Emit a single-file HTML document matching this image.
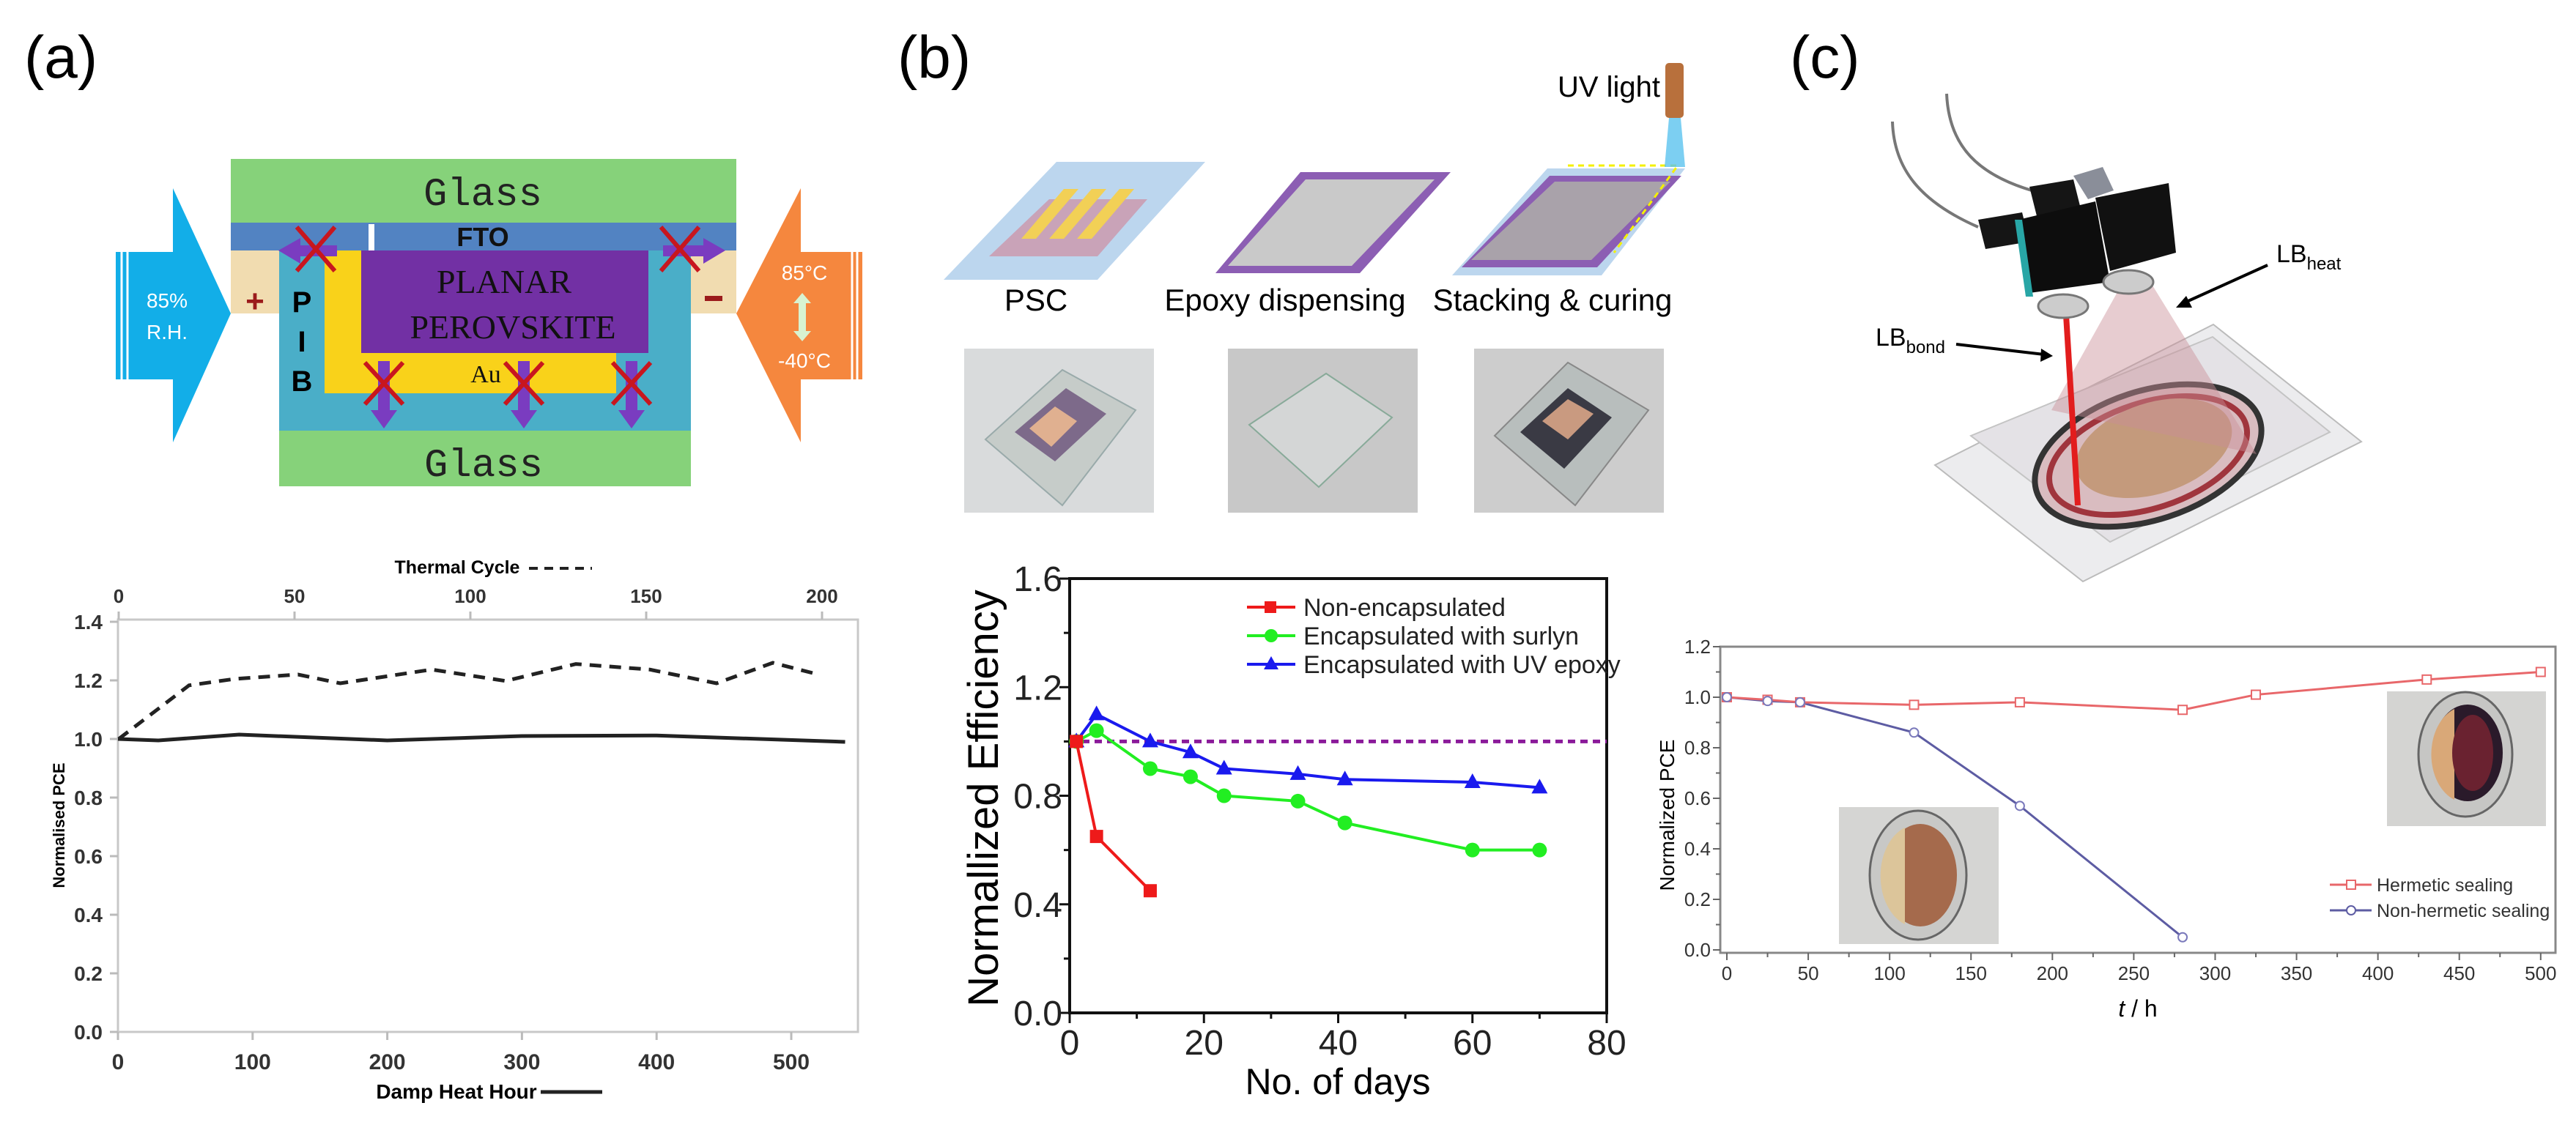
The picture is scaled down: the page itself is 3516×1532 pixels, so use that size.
<!DOCTYPE html>
<html><head><meta charset="utf-8">
<style>
html,body{margin:0;padding:0;background:#fff;}
svg{display:block;font-family:"Liberation Sans",sans-serif;}
</style></head>
<body>
<svg id="fig" width="3516" height="1532" viewBox="0 0 3516 1532" xmlns="http://www.w3.org/2000/svg">
<rect width="3516" height="1532" fill="#fff"/>

<!-- panel labels -->
<text x="33" y="106" font-size="82">(a)</text>
<text x="1225" y="106" font-size="82">(b)</text>
<text x="2443" y="106" font-size="82">(c)</text>

<!-- ===== Diagram A ===== -->
<g>
  <rect x="315" y="217" width="690" height="87" fill="#86d27a"/>
  <text x="659" y="280" font-size="54" font-family="Liberation Mono,monospace" text-anchor="middle" fill="#222">Glass</text>
  <rect x="315" y="304" width="690" height="38" fill="#5283c2"/>
  <text x="659" y="336" font-size="36" font-weight="bold" text-anchor="middle" fill="#111">FTO</text>
  <rect x="503" y="306" width="8" height="36" fill="#fff"/>
  <rect x="315" y="342" width="66" height="86" fill="#f1dcb0"/>
  <rect x="943" y="342" width="62" height="86" fill="#f1dcb0"/>
  <rect x="381" y="342" width="562" height="246" fill="#4aaec8"/>
  <rect x="443" y="342" width="398" height="195" fill="#f9d21a"/>
  <rect x="493" y="342" width="392" height="140" fill="#7230a4"/>
  <text x="688" y="400" font-size="46" font-family="Liberation Serif,serif" text-anchor="middle" fill="#111">PLANAR</text>
  <text x="700" y="462" font-size="46" font-family="Liberation Serif,serif" text-anchor="middle" fill="#111">PEROVSKITE</text>
  <text x="663" y="522" font-size="34" font-family="Liberation Serif,serif" text-anchor="middle" fill="#111">Au</text>
  <text x="412" y="426" font-size="40" font-weight="bold" text-anchor="middle">P</text>
  <text x="412" y="480" font-size="40" font-weight="bold" text-anchor="middle">I</text>
  <text x="412" y="534" font-size="40" font-weight="bold" text-anchor="middle">B</text>
  <rect x="381" y="588" width="562" height="76" fill="#86d27a"/>
  <text x="660" y="650" font-size="54" font-family="Liberation Mono,monospace" text-anchor="middle" fill="#222">Glass</text>
  <text x="348" y="426" font-size="44" font-weight="bold" text-anchor="middle" fill="#9b1b1b">+</text>
  <rect x="962" y="404" width="24" height="7" fill="#9b1b1b"/>
  <polygon points="158,344 236,344 236,257 315,428 236,604 236,518 158,518" fill="#12aee8"/>
  <line x1="166" y1="344" x2="166" y2="518" stroke="#fff" stroke-width="3"/>
  <line x1="174" y1="344" x2="174" y2="518" stroke="#fff" stroke-width="3"/>
  <text x="228" y="420" font-size="28" fill="#fff" text-anchor="middle">85%</text>
  <text x="228" y="463" font-size="28" fill="#fff" text-anchor="middle">R.H.</text>
  <polygon points="1177,344 1093,344 1093,257 1005,428 1093,604 1093,518 1177,518" fill="#f5873e"/>
  <line x1="1163" y1="344" x2="1163" y2="518" stroke="#fff" stroke-width="3"/>
  <line x1="1170" y1="344" x2="1170" y2="518" stroke="#fff" stroke-width="3"/>
  <text x="1098" y="382" font-size="28" fill="#fff" text-anchor="middle">85°C</text>
  <text x="1098" y="502" font-size="28" fill="#fff" text-anchor="middle">-40°C</text>
  <polygon points="1095,400 1107,414 1100,414 1100,452 1107,452 1095,466 1083,452 1090,452 1090,414 1083,414" fill="#d8f3d0"/>
  <g fill="#7a3cc0">
    <polygon points="380,342 410,325 410,335 460,335 460,350 410,350 410,360"/>
    <polygon points="990,342 960,325 960,335 905,335 905,350 960,350 960,360"/>
    <polygon points="516,493 532,493 532,560 542,560 524,585 506,560 516,560"/>
    <polygon points="707,493 723,493 723,560 733,560 715,585 697,560 707,560"/>
    <polygon points="854,493 870,493 870,560 880,560 862,585 844,560 854,560"/>
  </g>
  <g stroke="#c8161e" stroke-width="6">
    <path d="M405,310 L457,370 M457,310 L405,370"/>
    <path d="M902,310 L954,370 M954,310 L902,370"/>
    <path d="M498,495 L550,552 M550,495 L498,552"/>
    <path d="M689,495 L741,552 M741,495 L689,552"/>
    <path d="M836,495 L888,552 M888,495 L836,552"/>
  </g>
</g>

<!-- ===== Diagram B ===== -->
<g>
  <polygon points="1442,221 1645,221 1498,382 1288,382" fill="#bcd6ee"/>
  <polygon points="1432,272 1566,272 1498,350 1350,350" fill="#c9a3b8"/>
  <g fill="#f2d056">
    <polygon points="1452,258 1472,258 1414,326 1394,326"/>
    <polygon points="1490,258 1510,258 1452,326 1432,326"/>
    <polygon points="1528,258 1548,258 1490,326 1470,326"/>
  </g>
  <polygon points="1775,235 1980,235 1856,373 1659,373" fill="#8c5eb3"/>
  <polygon points="1782,245 1958,245 1845,363 1676,363" fill="#c9c9c9"/>
  <polygon points="2112,230 2300,230 2186,376 1982,376" fill="#bcd6ee"/>
  <polygon points="2115,240 2295,240 2180,365 1995,365" fill="#8c5eb3"/>
  <polygon points="2122,248 2280,248 2172,355 2008,355" fill="#a9a2aa"/>
  <polyline points="2140,226 2290,226 2203,345" fill="none" stroke="#f4f000" stroke-width="3" stroke-dasharray="8,6"/>
  <polygon points="2278,161 2294,161 2300,228 2272,228" fill="#5bc3ef" opacity="0.8"/>
  <rect x="2273" y="86" width="25" height="75" rx="5" fill="#b8703c"/>
  <text x="2266" y="132" font-size="40" text-anchor="end">UV light</text>
  <text x="1414" y="424" font-size="42" text-anchor="middle">PSC</text>
  <text x="1754" y="424" font-size="42" text-anchor="middle">Epoxy dispensing</text>
  <text x="2119" y="424" font-size="42" text-anchor="middle">Stacking &amp; curing</text>
  <g>
    <rect x="1316" y="476" width="259" height="224" fill="#d9dbdc"/>
    <polygon points="1345,600 1450,505 1550,560 1450,690" fill="#c6ccc9" stroke="#9aa" stroke-width="2"/>
    <polygon points="1385,590 1455,530 1510,565 1440,630" fill="#7d6a8a"/>
    <polygon points="1405,585 1440,555 1470,575 1435,610" fill="#e0b090"/>
  </g>
  <g>
    <rect x="1676" y="476" width="259" height="224" fill="#c8c8c8"/>
    <polygon points="1705,580 1810,510 1900,570 1800,665" fill="#d4d6d6" stroke="#8a9" stroke-width="2"/>
  </g>
  <g>
    <rect x="2012" y="476" width="259" height="224" fill="#cdcdcd"/>
    <polygon points="2040,595 2140,495 2250,560 2150,690" fill="#b8bebd" stroke="#888" stroke-width="2"/>
    <polygon points="2075,590 2140,530 2200,570 2135,640" fill="#3a3a44"/>
    <polygon points="2105,575 2140,545 2175,565 2140,600" fill="#c99a80"/>
  </g>
</g>

<!-- ===== Diagram C ===== -->
<g>
  <polygon points="2641,635 3021,443 3223,603 2843,794" fill="#ececee" stroke="#bbb" stroke-width="2"/>
  <polygon points="2690,595 3020,460 3180,590 2880,740" fill="#e4e2e6" stroke="#c4c4c4" stroke-width="2"/>
  <ellipse cx="2932" cy="622" rx="160" ry="88" transform="rotate(-18 2932 622)" fill="#d9bcc0" stroke="#333" stroke-width="8"/>
  <ellipse cx="2932" cy="622" rx="140" ry="72" transform="rotate(-18 2932 622)" fill="none" stroke="#a0353d" stroke-width="8"/>
  <ellipse cx="2940" cy="612" rx="110" ry="62" transform="rotate(-18 2940 612)" fill="#c49a7c"/>
  <polygon points="2895,390 2800,560 3080,620 2935,385" fill="#c98d96" opacity="0.45"/>
  <line x1="2820" y1="430" x2="2836" y2="690" stroke="#e21d1d" stroke-width="8"/>
  <path d="M2583,166 C2585,230 2620,275 2700,310" fill="none" stroke="#777" stroke-width="4"/>
  <path d="M2657,128 C2660,200 2700,240 2780,262" fill="none" stroke="#777" stroke-width="4"/>
  <polygon points="2700,300 2760,290 2770,330 2710,340" fill="#151515"/>
  <polygon points="2770,255 2830,245 2840,285 2780,295" fill="#151515"/>
  <polygon points="2755,300 2860,275 2880,385 2770,400" fill="#0d0d0d"/>
  <polygon points="2860,270 2960,250 2970,345 2880,370" fill="#111"/>
  <polygon points="2750,300 2760,300 2775,405 2765,405" fill="#28a6a6"/>
  <polygon points="2830,240 2870,228 2885,260 2850,272" fill="#8a8e99"/>
  <ellipse cx="2816" cy="418" rx="34" ry="16" fill="#ccc" stroke="#777" stroke-width="3"/>
  <ellipse cx="2905" cy="385" rx="34" ry="16" fill="#ccc" stroke="#777" stroke-width="3"/>
  <text x="3107" y="358" font-size="34">LB<tspan font-size="24" dy="10">heat</tspan></text>
  <line x1="3095" y1="362" x2="2980" y2="414" stroke="#000" stroke-width="4"/>
  <polygon points="2970,420 2984,404 2992,420" fill="#000"/>
  <text x="2560" y="472" font-size="34">LB<tspan font-size="24" dy="10">bond</tspan></text>
  <line x1="2670" y1="470" x2="2790" y2="484" stroke="#000" stroke-width="4"/>
  <polygon points="2802,486 2786,476 2785,494" fill="#000"/>
</g>

<!-- ===== Chart A ===== -->
<g id="chartA">
  <rect x="161" y="846" width="1010" height="563" fill="none" stroke="#c8c8c8" stroke-width="3"/>
  <text x="624" y="783" font-size="25" font-weight="bold" text-anchor="middle">Thermal Cycle</text>
  <line x1="722" y1="776" x2="808" y2="776" stroke="#222" stroke-width="4" stroke-dasharray="12,9"/>
  <text x="623" y="1500" font-size="28" font-weight="bold" text-anchor="middle">Damp Heat Hour</text>
  <line x1="738" y1="1491" x2="822" y2="1491" stroke="#222" stroke-width="5"/>
  <text transform="translate(88,1127) rotate(-90)" font-size="22" font-weight="bold" text-anchor="middle">Normalised PCE</text>
</g>

<!-- ===== Chart B ===== -->
<g id="chartB">
  <rect x="1460" y="790" width="733" height="593" fill="none" stroke="#111" stroke-width="4"/>
  <text x="1826" y="1494" font-size="50" text-anchor="middle">No. of days</text>
  <text transform="translate(1362,1090) rotate(-90)" font-size="58" text-anchor="middle">Normallized  Efficiency</text>
</g>

<!-- ===== Chart C ===== -->
<g id="chartC">
  <rect x="2348" y="883" width="1140" height="418" fill="none" stroke="#888" stroke-width="3"/>
  <g>
    <rect x="2510" y="1102" width="218" height="187" fill="#d5d5d3"/>
    <ellipse cx="2618" cy="1195" rx="66" ry="88" fill="#c8c8c6" stroke="#666" stroke-width="3"/>
    <ellipse cx="2621" cy="1195" rx="50" ry="70" fill="#a56a4c"/>
    <path d="M2600,1130 A50,70 0 0 0 2600,1262 Z" fill="#dcc59a"/>
  </g>
  <g>
    <rect x="3258" y="944" width="217" height="184" fill="#d4d4d2"/>
    <ellipse cx="3365" cy="1030" rx="64" ry="85" fill="#c6c6c4" stroke="#666" stroke-width="3"/>
    <ellipse cx="3368" cy="1028" rx="48" ry="66" fill="#2a1a2a"/>
    <path d="M3350,968 A48,66 0 0 0 3350,1092 Z" fill="#d9a878"/>
    <ellipse cx="3375" cy="1028" rx="28" ry="52" fill="#6a2230"/>
  </g>
  <text x="2918" y="1388" font-size="32" font-style="italic" text-anchor="middle">t<tspan font-style="normal"> / h</tspan></text>
  <text transform="translate(2285,1113) rotate(-90)" font-size="28" text-anchor="middle">Normalized PCE</text>
</g>

<script>
// ---- Chart A data ----
const aHours = [0, 30, 90, 200, 300, 400, 540];
const aDampValues = [1.0, 0.995, 1.015, 0.995, 1.01, 1.012, 0.99];
const aCycles = [0, 20, 33, 51, 63, 89, 110, 130, 151, 170, 186, 199];
const aThermalValues = [1.0, 1.183, 1.205, 1.22, 1.19, 1.237, 1.198, 1.256, 1.237, 1.19, 1.26, 1.22];
const aXTicks = ["0", "100", "200", "300", "400", "500"];
const aTopTicks = ["0", "50", "100", "150", "200"];
const aYTicks = ["0.0", "0.2", "0.4", "0.6", "0.8", "1.0", "1.2", "1.4"];

// ---- Chart B data ----
const bDaysRed = [1, 4, 12];
const bNonEncap = [1.0, 0.65, 0.45];
const bDays = [1, 4, 12, 18, 23, 34, 41, 60, 70];
const bSurlyn = [1.0, 1.04, 0.9, 0.87, 0.8, 0.78, 0.7, 0.6, 0.6];
const bUvEpoxy = [1.0, 1.1, 1.0, 0.96, 0.9, 0.88, 0.86, 0.85, 0.83];
const bReference = [1.0];
const bXTicks = ["0", "20", "40", "60", "80"];
const bYTicks = ["0.0", "0.4", "0.8", "1.2", "1.6"];
const bLegend = ["Non-encapsulated", "Encapsulated with surlyn", "Encapsulated with UV epoxy"];

// ---- Chart C data ----
const cHoursH = [0, 25, 45, 115, 180, 280, 325, 430, 500];
const cHermetic = [1.0, 0.99, 0.98, 0.97, 0.98, 0.95, 1.01, 1.07, 1.1];
const cHoursN = [0, 25, 45, 115, 180, 280];
const cNonHermetic = [1.0, 0.985, 0.98, 0.86, 0.57, 0.05];
const cXTicks = ["0", "50", "100", "150", "200", "250", "300", "350", "400", "450", "500"];
const cYTicks = ["0.0", "0.2", "0.4", "0.6", "0.8", "1.0", "1.2"];
const cLegend = ["Hermetic sealing", "Non-hermetic sealing"];

const NS = "http://www.w3.org/2000/svg";
function mk(parent, tag, attrs, text) {
  const e = document.createElementNS(NS, tag);
  for (const k in attrs) e.setAttribute(k, attrs[k]);
  if (text !== undefined) e.textContent = text;
  parent.appendChild(e);
  return e;
}
function pts(xs, ys, fx, fy) { return xs.map((x, i) => fx(x) + "," + fy(ys[i])).join(" "); }

(function () {
  const g = document.getElementById("chartA");
  const xA = h => 161 + h * 1.838;
  const xT = c => 162 + c * 4.8;
  const yA = v => 1409 - v * 400;
  aXTicks.forEach(t => {
    const x = xA(+t);
    const l = mk(g, "line", { x1: x, y1: 1409, x2: x, y2: 1420, stroke: "#bbb", "stroke-width": 3 });
    
    
    const tx = mk(g, "text", { x: x, y: 1460, "font-size": 30, "font-weight": "bold", "text-anchor": "middle", fill: "#333" }, t);
    
    
  });
  aTopTicks.forEach(t => {
    const x = xT(+t);
    const l = mk(g, "line", { x1: x, y1: 835, x2: x, y2: 846, stroke: "#bbb", "stroke-width": 3 });
    
    
    const tx = mk(g, "text", { x: x, y: 823, "font-size": 26, "font-weight": "bold", "text-anchor": "middle", fill: "#333" }, t);
    
    
  });
  aYTicks.forEach(t => {
    const y = yA(+t);
    const l = mk(g, "line", { x1: 150, y1: y, x2: 161, y2: y, stroke: "#bbb", "stroke-width": 3 });
    
    
    const tx = mk(g, "text", { x: 140, y: y + 10, "font-size": 28, "font-weight": "bold", "text-anchor": "end", fill: "#333" }, t);
    
    
  });
  const dash = mk(g, "polyline", { points: pts(aCycles, aThermalValues, xT, yA), fill: "none", stroke: "#222", "stroke-width": 5, "stroke-dasharray": "16,11" });
  
  
  const solid = mk(g, "polyline", { points: pts(aHours, aDampValues, xA, yA), fill: "none", stroke: "#222", "stroke-width": 5 });
  
  
})();

(function () {
  const g = document.getElementById("chartB");
  const xB = d => 1460 + d * 9.1625;
  const yB = v => 1383 - v * 370.6;
  for (let d = 0; d <= 80; d += 10) {
    const major = d % 20 === 0;
    const l = mk(g, "line", { x1: xB(d), y1: 1383, x2: xB(d), y2: 1383 + (major ? 14 : 8), stroke: "#111", "stroke-width": 3 });
    
    
  }
  bXTicks.forEach(t => {
    const tx = mk(g, "text", { x: xB(+t), y: 1440, "font-size": 48, "text-anchor": "middle", fill: "#222" }, t);
    
    
  });
  for (let v = 0; v <= 1.6001; v += 0.2) {
    const major = Math.round(v * 10) % 4 === 0;
    const l = mk(g, "line", { x1: 1460 - (major ? 14 : 8), y1: yB(v), x2: 1460, y2: yB(v), stroke: "#111", "stroke-width": 3 });
    
    
  }
  bYTicks.forEach(t => {
    const tx = mk(g, "text", { x: 1450, y: yB(+t) + 17, "font-size": 48, "text-anchor": "end", fill: "#222" }, t);
    
    
  });
  const ref = mk(g, "line", { x1: xB(0), y1: yB(bReference[0]), x2: xB(80), y2: yB(bReference[0]), stroke: "#8b1a9a", "stroke-width": 5, "stroke-dasharray": "10,7" });
  
  

  const green = mk(g, "polyline", { points: pts(bDays, bSurlyn, xB, yB), fill: "none", stroke: "#22ee22", "stroke-width": 4 });
  
  
  bDays.forEach((d, i) => {
    const c = mk(g, "circle", { cx: xB(d), cy: yB(bSurlyn[i]), r: 10, fill: "#22ee22" });
    
    
  });
  const blue = mk(g, "polyline", { points: pts(bDays, bUvEpoxy, xB, yB), fill: "none", stroke: "#1a1aee", "stroke-width": 4 });
  
  
  bDays.forEach((d, i) => {
    const x = xB(d), y = yB(bUvEpoxy[i]);
    const p = mk(g, "polygon", { points: `${x},${y - 12} ${x + 11},${y + 8} ${x - 11},${y + 8}`, fill: "#1a1aee" });
    
    
  });
  const red = mk(g, "polyline", { points: pts(bDaysRed, bNonEncap, xB, yB), fill: "none", stroke: "#ee1a1a", "stroke-width": 4 });
  
  
  bDaysRed.forEach((d, i) => {
    const r = mk(g, "rect", { x: xB(d) - 9, y: yB(bNonEncap[i]) - 9, width: 18, height: 18, fill: "#ee1a1a" });
    
    
  });
  const colors = ["#ee1a1a", "#22ee22", "#1a1aee"];
  bLegend.forEach((name, i) => {
    const y = 829 + i * 39;
    const l = mk(g, "line", { x1: 1702, y1: y, x2: 1768, y2: y, stroke: colors[i], "stroke-width": 4 });
    
    
    let m;
    if (i === 0) m = mk(g, "rect", { x: 1726, y: y - 8, width: 16, height: 16, fill: colors[i] });
    else if (i === 1) m = mk(g, "circle", { cx: 1735, cy: y, r: 9, fill: colors[i] });
    else m = mk(g, "polygon", { points: `1735,${y - 11} 1745,${y + 7} 1725,${y + 7}`, fill: colors[i] });
    
    
    const t = mk(g, "text", { x: 1779, y: y + 12, "font-size": 34, fill: "#222" }, name);
    
    
  });
})();

(function () {
  const g = document.getElementById("chartC");
  const xC = h => 2357 + h * 2.2216;
  const yC = v => 1297 - v * 345;
  for (let h = 0; h <= 500; h += 25) {
    const major = h % 50 === 0;
    const l = mk(g, "line", { x1: xC(h), y1: 1301, x2: xC(h), y2: 1301 + (major ? 10 : 6), stroke: "#666", "stroke-width": 2 });
    
    
  }
  cXTicks.forEach(t => {
    const tx = mk(g, "text", { x: xC(+t), y: 1338, "font-size": 26, "text-anchor": "middle", fill: "#333" }, t);
    
    
  });
  for (let v = 0; v <= 1.2001; v += 0.1) {
    const major = Math.round(v * 10) % 2 === 0;
    const l = mk(g, "line", { x1: 2348 - (major ? 10 : 6), y1: yC(v), x2: 2348, y2: yC(v), stroke: "#666", "stroke-width": 2 });
    
    
  }
  cYTicks.forEach(t => {
    const tx = mk(g, "text", { x: 2335, y: yC(+t) + 9, "font-size": 26, "text-anchor": "end", fill: "#333" }, t);
    
    
  });
  const nl = mk(g, "polyline", { points: pts(cHoursN, cNonHermetic, xC, yC), fill: "none", stroke: "#5d5ca3", "stroke-width": 3 });
  
  
  const hl = mk(g, "polyline", { points: pts(cHoursH, cHermetic, xC, yC), fill: "none", stroke: "#e8676a", "stroke-width": 3 });
  
  
  cHoursH.forEach((h, i) => {
    const r = mk(g, "rect", { x: xC(h) - 6, y: yC(cHermetic[i]) - 6, width: 12, height: 12, fill: "#fff", stroke: "#e8676a", "stroke-width": 2 });
    
    
  });
  cHoursN.forEach((h, i) => {
    const c = mk(g, "circle", { cx: xC(h), cy: yC(cNonHermetic[i]), r: 6, fill: "#fff", stroke: "#7a79bb", "stroke-width": 2 });
    
    
  });
  const lc = ["#e8676a", "#5d5ca3"];
  cLegend.forEach((name, i) => {
    const y = 1208 + i * 35;
    const l = mk(g, "line", { x1: 3180, y1: y, x2: 3237, y2: y, stroke: lc[i], "stroke-width": 3 });
    
    
    const m = i === 0
      ? mk(g, "rect", { x: 3203, y: y - 6, width: 12, height: 12, fill: "#fff", stroke: lc[i], "stroke-width": 2 })
      : mk(g, "circle", { cx: 3209, cy: y, r: 6, fill: "#fff", stroke: lc[i], "stroke-width": 2 });
    
    
    const t = mk(g, "text", { x: 3244, y: y + 9, "font-size": 25, fill: "#333" }, name);
    
    
  });
})();
</script>
</svg>
</body></html>
